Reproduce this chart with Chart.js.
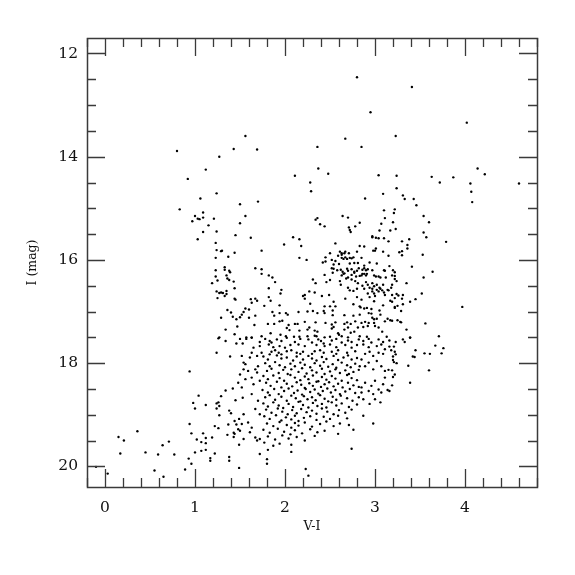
<!DOCTYPE html>
<html>
<head>
<meta charset="utf-8">
<script src="https://cdn.jsdelivr.net/npm/chart.js@4/dist/chart.umd.min.js"></script>
<style>
html,body{margin:0;padding:0;background:#fff;}
#wrap{width:575px;height:575px;}
</style>
</head>
<body>
<div id="wrap"><canvas id="c" width="575" height="575"></canvas></div>
<script>
// Axis ticks
const xMajorTicks = [0, 1, 2, 3, 4];
const yMajorTicks = [12, 14, 16, 18, 20];
const xMinorStep = 0.2;
const yMinorStep = 0.5;
const xRange = [-0.2, 4.8];
const yRange = [11.7, 20.4];

// Stars: [V-I, I]
const brightStars = [
[0.80,13.89],[1.43,13.85],[1.27,14.00],[1.12,14.25],[0.92,14.43],
[2.80,12.46],[2.95,13.14],[1.56,13.60],[1.69,13.86],[2.67,13.65],[2.36,13.81],[2.85,13.81],[2.37,14.23],[2.48,14.33],[2.11,14.37],[2.28,14.50],[3.04,14.36],
[3.41,12.65],[4.02,13.34],[3.23,13.60],[3.24,14.37],[3.63,14.39],[3.72,14.50],[3.87,14.40],[4.14,14.23],[4.22,14.34],[4.06,14.52],[4.60,14.52],[3.24,14.61],[4.07,14.68],[4.08,14.88]
];

const blueBranch = [
[1.24,14.71],[1.06,14.81],[0.83,15.02],[1.09,15.08],[1.00,15.15],[1.03,15.20],[1.05,15.21],[1.09,15.18],[0.97,15.25],[1.21,15.20],
[1.15,15.33],[1.09,15.46],[1.24,15.45],[1.03,15.60],[1.45,15.52],[1.23,15.67],[1.24,15.81],[1.29,15.83],[1.30,15.82],[1.44,15.86],
[1.23,15.96],[1.37,15.94],[1.33,16.14],[1.33,16.19],[1.23,16.20],[1.38,16.21],[1.39,16.24],[1.35,16.30],[1.23,16.32],[1.36,16.36],
[1.25,16.40],[1.38,16.39],[1.43,16.42],[1.19,16.45],[1.44,16.55],[1.24,16.61],[1.27,16.64],[1.29,16.63],[1.31,16.64],[1.35,16.60],
[1.35,16.66],[1.25,16.74],[1.33,16.70],[1.44,16.75],[1.45,16.77],[1.36,16.97],[1.40,17.02],[1.29,17.12],[1.42,17.10],[1.46,17.15],
[1.34,17.35],[1.27,17.50],[1.44,17.44],
[1.26,17.52],[1.34,17.57],[1.24,17.80],[1.39,17.87],[0.94,18.16],[1.42,18.49],[1.34,18.53],[1.45,18.72],[1.29,18.64],[1.04,18.63],
[0.98,18.77],[1.00,18.88],[1.12,18.81],[1.24,18.78],[1.26,18.76],[1.27,18.83],[1.24,18.88],[1.38,18.92],[1.40,18.97],[1.27,19.01],
[0.94,19.18],[1.37,19.19],[1.44,19.12],[1.46,19.19],[1.22,19.22],[1.26,19.26],[0.36,19.32],[0.15,19.43],[0.21,19.50],[0.64,19.59],
[0.71,19.52],[0.96,19.36],[1.09,19.36],[1.02,19.48],[1.07,19.53],[1.12,19.45],[1.12,19.55],[1.19,19.44],[1.36,19.39],[1.43,19.35],
[1.44,19.37],[1.43,19.43],[1.00,19.73],[1.07,19.70],[1.12,19.68],[1.22,19.75],[1.17,19.84],[1.17,19.89],[1.38,19.82],[1.38,19.89],
[0.93,19.85],[0.96,19.95],[0.17,19.75],[0.45,19.73],[0.59,19.77],[0.77,19.77],[-0.10,20.01],[0.03,20.14],[0.55,20.08],[0.65,20.20],[0.89,20.06]
];

const redBranch = [
[3.31,14.75],[3.33,14.82],[3.43,14.82],[3.46,14.94],[3.22,15.02],[3.21,15.09],[3.54,15.15],[3.60,15.27],[3.20,15.27],[3.17,15.43],
[3.23,15.40],[3.54,15.47],[3.57,15.56],[3.79,15.65],[3.15,15.64],[3.30,15.64],[3.38,15.60],[3.36,15.71],[3.36,15.78],[3.30,15.83],
[3.27,15.85],[3.30,15.91],[3.15,15.92],[3.53,15.90],[3.16,16.12],[3.41,16.13],[3.20,16.20],[3.22,16.24],[3.64,16.23],[3.19,16.30],
[3.22,16.31],[3.54,16.34],[3.22,16.37],[3.24,16.41],[3.35,16.45],[3.19,16.48],[3.18,16.54],[3.14,16.58],[3.15,16.59],[3.52,16.65],
[3.19,16.68],[3.24,16.66],[3.26,16.69],[3.31,16.68],[3.22,16.74],[3.30,16.75],[3.45,16.76],[3.39,16.81],[3.17,16.79],[3.19,16.81],
[3.31,16.86],[3.25,16.89],[3.22,16.91],[3.22,16.93],[3.97,16.91],[3.29,16.99],[3.14,17.14],[3.17,17.17],[3.19,17.18],[3.25,17.17],
[3.28,17.20],[3.29,17.21],[3.56,17.23],[3.35,17.35],[3.13,17.49],[3.39,17.50],[3.71,17.48],
[3.16,17.56],[3.23,17.59],[3.31,17.54],[3.33,17.59],[3.39,17.51],[3.16,17.68],[3.21,17.68],[3.18,17.75],[3.22,17.78],[3.23,17.83],
[3.20,17.87],[3.20,17.94],[3.21,17.98],[3.24,18.00],[3.45,17.75],[3.42,17.87],[3.44,17.88],[3.55,17.81],[3.61,17.82],[3.67,17.66],
[3.76,17.71],[3.74,17.81],[3.37,18.05],[3.60,18.14],[3.15,18.13],[3.19,18.14],[3.22,18.22],[3.20,18.27],[3.39,18.38],[3.19,18.43],
[3.14,18.52],[3.16,18.54]
];

const midField = [
[2.29,14.67],[3.09,14.72],[1.50,14.92],[1.70,14.87],[2.89,14.81],[1.56,15.15],[1.50,15.29],[2.64,15.15],[2.70,15.18],[2.36,15.19],
[2.34,15.22],[2.39,15.31],[2.44,15.35],[2.78,15.35],[2.83,15.28],[2.71,15.37],[2.72,15.42],[2.73,15.46],[3.10,15.04],[3.11,15.19],
[3.07,15.30],[3.05,15.43],[1.62,15.57],[2.09,15.56],[2.16,15.60],[1.99,15.70],[2.18,15.73],[2.97,15.54],[2.97,15.56],[3.01,15.57],
[3.04,15.58],[3.10,15.58],[2.56,15.68],[1.74,15.82],[2.16,15.96],[2.24,16.00],[2.83,15.73],[2.88,15.74],[2.50,15.87],[2.61,15.84],
[2.63,15.87],[2.67,15.84],[2.59,15.92],[2.63,15.90],[2.66,15.87],[2.71,15.87],[2.80,15.84],[2.98,15.82],[3.00,15.82],[3.01,15.78],
[3.09,15.84],[2.45,15.95],[2.42,16.05],[2.45,16.03],[2.52,16.00],[2.56,16.02],[2.63,15.96],[2.65,15.98],[2.67,15.95],[2.69,15.98],
[2.72,15.96],[2.74,15.97],[2.76,15.95],[2.85,15.96],[2.54,16.09],[2.60,16.08],[2.72,16.07],[2.77,16.06],[2.81,16.06],[2.88,16.11],
[2.94,16.05],[3.02,16.07],[1.67,16.16],[1.74,16.18],[1.74,16.27],[2.52,16.16],[2.54,16.17],[2.58,16.20],[2.62,16.19],[2.64,16.23],
[2.66,16.26],[2.69,16.17],[2.70,16.21],[2.74,16.18],[2.77,16.23],[2.80,16.21],[2.82,16.16],[2.86,16.19],[2.88,16.16],[2.90,16.20],
[2.92,16.18],[2.97,16.20],[3.10,16.20],[3.11,16.21],[2.44,16.29],[2.53,16.25],[2.63,16.30],[2.65,16.27],[2.74,16.29],[2.77,16.25],
[2.79,16.32],[2.83,16.31],[2.85,16.30],[2.86,16.27],[2.88,16.27],[2.90,16.30],[2.91,16.27],[2.99,16.30],[3.01,16.32],[3.04,16.32],
[3.06,16.34],[3.12,16.34],[1.82,16.30],[1.86,16.34],[1.89,16.43],[2.31,16.38],[2.34,16.45],[2.46,16.43],[2.50,16.39],[2.61,16.41],
[2.62,16.48],[2.68,16.36],[2.70,16.34],[2.74,16.38],[2.78,16.41],[2.81,16.45],[2.86,16.50],[2.90,16.43],[2.92,16.48],[2.97,16.45],
[2.99,16.51],[3.02,16.48],[3.05,16.54],[3.09,16.48],[1.82,16.55],[1.96,16.58],[1.95,16.65],[2.27,16.61],[2.33,16.63],[2.70,16.54],
[2.72,16.59],[2.76,16.60],[2.80,16.56],[2.88,16.56],[2.94,16.54],[2.97,16.56],[2.97,16.61],[2.99,16.65],[3.02,16.58],[3.04,16.61],
[3.06,16.56],[3.08,16.59],[3.10,16.63],[3.11,16.68],[3.00,16.70],[2.92,16.65],[1.82,16.72],[1.84,16.79],[2.20,16.70],[2.22,16.68],
[2.22,16.75],[2.41,16.70],[2.49,16.68],[2.54,16.81],[2.67,16.75],[2.80,16.72],[2.85,16.77],[2.94,16.72],[2.99,16.80],[1.62,16.76],
[1.67,16.75],[1.69,16.79],[1.63,16.83],[1.56,16.94],[1.60,16.96],[1.54,17.01],[1.52,17.06],[1.50,17.11],[1.77,16.89],[1.94,16.88],
[2.28,16.85],[2.31,16.99],[2.44,16.90],[2.43,16.99],[2.50,16.90],[2.56,16.90],[2.76,16.86],[2.83,16.90],[2.84,16.92],[2.88,16.94],
[2.91,16.93],[2.96,16.95],[3.05,16.98],[3.09,16.88],[1.86,17.01],[1.88,17.08],[1.94,17.03],[2.01,17.03],[2.03,17.06],[2.15,17.01],
[2.25,17.00],[2.36,17.03],[2.53,16.98],[2.44,17.03],[2.53,17.07],[2.66,17.07],[2.76,17.08],[2.83,17.06],[2.93,17.03],[2.96,17.04],
[3.06,17.06],[2.97,17.12],[2.99,17.15],[3.02,17.14],[1.60,17.12],[1.67,17.08],[1.81,17.24],[1.88,17.24],[1.94,17.19],[1.97,17.18],
[2.04,17.26],[2.11,17.24],[2.14,17.24],[2.22,17.20],[2.34,17.21],[2.45,17.22],[2.52,17.25],[2.56,17.21],[2.66,17.24],[2.69,17.21],
[2.73,17.24],[2.78,17.19],[2.85,17.22],[2.89,17.20],[2.93,17.22],[2.99,17.22],[3.11,17.19],[1.47,17.29],[1.66,17.26],[2.02,17.32],
[2.05,17.36],[2.16,17.37],[2.25,17.35],[2.27,17.31],[2.33,17.37],[2.36,17.39],[2.52,17.33],[2.54,17.30],[2.59,17.42],[2.60,17.45],
[2.66,17.35],[2.70,17.31],[2.73,17.41],[2.77,17.39],[2.81,17.31],[2.87,17.30],[2.92,17.28],[3.00,17.28],[3.04,17.31],[3.08,17.39],
[1.84,17.42],[1.95,17.45],[2.01,17.48],[2.10,17.49],[2.16,17.49],[2.33,17.47],[2.35,17.48],[2.44,17.50],[2.50,17.49],[2.63,17.48],
[2.70,17.50],[2.83,17.48],[2.91,17.49],[1.57,17.50],[1.63,17.50],[1.74,17.48],[2.25,17.48]
];

const faintClump = [
[1.50,17.53],[1.57,17.53],[1.63,17.51],[1.72,17.59],[1.78,17.53],[1.83,17.57],[1.85,17.60],[1.91,17.54],[1.96,17.57],[2.02,17.51],
[2.11,17.59],[2.17,17.53],[2.26,17.54],[2.30,17.60],[2.37,17.54],[2.40,17.57],[2.43,17.62],[2.52,17.56],[2.57,17.53],[2.63,17.60],
[2.70,17.56],[2.74,17.59],[2.82,17.54],[2.87,17.57],[2.93,17.53],[2.96,17.60],[3.04,17.54],[3.09,17.59],[1.46,17.62],[1.53,17.62],
[1.65,17.70],[1.72,17.67],[1.82,17.64],[1.87,17.69],[1.94,17.67],[2.00,17.70],[2.06,17.65],[2.15,17.64],[2.22,17.67],[2.35,17.65],
[2.44,17.67],[2.50,17.64],[2.57,17.69],[2.67,17.65],[2.74,17.70],[2.80,17.65],[2.87,17.64],[2.93,17.69],[3.02,17.67],[3.07,17.64],
[3.11,17.73],
[1.54,17.99],[1.56,18.02],[1.61,17.89],[1.69,17.86],[1.74,17.80],[1.83,17.83],[1.85,17.78],[1.89,17.75],[1.93,17.80],[1.96,17.83],
[2.02,17.77],[2.07,17.75],[2.13,17.80],[2.17,17.82],[2.20,17.78],[2.30,17.82],[2.33,17.77],[2.39,17.75],[2.43,17.80],[2.52,17.78],
[2.57,17.82],[2.59,17.75],[2.69,17.80],[2.78,17.77],[2.89,17.82],[2.94,17.78],[2.98,17.86],[3.04,17.80],[3.09,17.82],[1.52,17.86],
[1.63,17.80],
[1.50,18.22],[1.54,18.12],[1.59,18.15],[1.67,18.12],[1.63,18.28],[1.70,18.06],[1.69,18.18],[2.85,17.93],[2.89,18.06],[2.93,17.99],
[2.98,18.12],[3.02,17.96],[3.07,18.06],[3.11,18.15],
[1.48,18.38],[1.52,18.47],[1.56,18.31],[1.65,18.41],[1.72,18.34],[2.85,18.47],[2.89,18.38],[2.93,18.54],[2.96,18.44],[3.00,18.34],
[3.04,18.51],[3.09,18.41],[3.11,18.28],[2.85,18.57],[2.98,18.60],[3.07,18.57],
[1.53,18.67],[1.63,18.60],[1.70,18.73],[1.67,18.89],[2.87,18.70],[2.94,18.79],[3.00,18.70],[3.06,18.76],
[1.49,19.08],[1.52,19.18],[1.59,19.15],[1.63,19.25],[1.72,18.99],[1.54,18.99],[2.87,19.02],[2.98,19.17],
[1.48,19.28],[1.50,19.31],[1.61,19.34],[1.67,19.44],[1.69,19.50],[1.72,19.47],[1.54,19.47],[1.49,19.58],[1.72,19.76],[1.80,19.86],
[1.80,19.95],[1.49,20.03],[2.23,20.05],[2.26,20.18]
];

const denseCore = [
[1.76,17.87],[1.81,17.93],[1.91,17.85],[1.96,17.91],[2.02,17.89],[2.09,17.95],[2.13,17.87],[2.20,17.93],[2.26,17.86],[2.30,17.91],
[2.35,17.95],[2.41,17.88],[2.46,17.92],[2.54,17.86],[2.59,17.94],[2.65,17.89],[2.70,17.85],[2.74,17.93],[2.80,17.90],
[1.78,18.00],[1.83,18.06],[1.89,17.98],[1.94,18.04],[2.00,18.08],[2.06,18.01],[2.11,18.06],[2.17,17.99],[2.22,18.03],[2.28,18.08],
[2.33,18.00],[2.39,18.05],[2.43,17.98],[2.48,18.07],[2.53,18.02],[2.57,18.09],[2.63,17.99],[2.69,18.04],[2.73,18.08],[2.78,18.01],[2.83,18.06],
[1.80,18.15],[1.85,18.11],[1.93,18.19],[1.98,18.13],[2.03,18.21],[2.07,18.12],[2.15,18.17],[2.19,18.10],[2.24,18.20],[2.30,18.14],
[2.35,18.18],[2.41,18.11],[2.44,18.21],[2.50,18.16],[2.56,18.12],[2.61,18.19],[2.67,18.14],[2.71,18.21],[2.76,18.17],[2.82,18.13],
[1.76,18.25],[1.81,18.31],[1.87,18.24],[1.94,18.29],[1.99,18.34],[2.06,18.23],[2.11,18.28],[2.17,18.33],[2.22,18.26],[2.26,18.31],
[2.31,18.24],[2.37,18.35],[2.41,18.27],[2.46,18.32],[2.52,18.25],[2.56,18.30],[2.63,18.34],[2.69,18.23],[2.74,18.29],[2.80,18.33],
[1.79,18.38],[1.84,18.44],[1.91,18.36],[1.96,18.47],[2.02,18.40],[2.08,18.45],[2.13,18.37],[2.18,18.42],[2.22,18.48],[2.27,18.39],
[2.31,18.44],[2.35,18.36],[2.40,18.46],[2.44,18.41],[2.49,18.37],[2.54,18.45],[2.59,18.40],[2.64,18.47],[2.70,18.38],[2.76,18.43],[2.82,18.46],
[1.75,18.52],[1.81,18.57],[1.88,18.50],[1.93,18.60],[1.99,18.54],[2.04,18.49],[2.10,18.58],[2.14,18.53],[2.19,18.61],[2.23,18.50],
[2.28,18.56],[2.33,18.51],[2.37,18.59],[2.42,18.54],[2.47,18.49],[2.51,18.57],[2.56,18.52],[2.61,18.60],[2.67,18.55],[2.72,18.50],[2.78,18.58],
[1.78,18.66],[1.83,18.62],[1.89,18.71],[1.96,18.65],[2.02,18.73],[2.07,18.63],[2.12,18.68],[2.17,18.74],[2.21,18.64],[2.25,18.70],
[2.30,18.66],[2.34,18.72],[2.39,18.62],[2.44,18.69],[2.48,18.74],[2.53,18.65],[2.57,18.71],[2.62,18.63],[2.69,18.68],[2.75,18.73],[2.82,18.66],
[1.76,18.78],[1.81,18.84],[1.87,18.76],[1.93,18.82],[1.98,18.87],[2.04,18.79],[2.09,18.85],[2.15,18.75],[2.20,18.81],[2.26,18.86],
[2.31,18.77],[2.36,18.83],[2.41,18.79],[2.46,18.86],[2.52,18.76],[2.57,18.82],[2.63,18.78],[2.71,18.85],[2.80,18.80],
[1.79,18.90],[1.85,18.96],[1.92,18.88],[1.97,18.94],[2.03,18.99],[2.08,18.91],[2.13,18.97],[2.18,18.89],[2.24,18.95],[2.30,18.92],
[2.35,18.98],[2.41,18.88],[2.47,18.94],[2.54,18.99],[2.60,18.91],[2.67,18.96],[2.74,18.90],
[1.77,19.03],[1.83,19.08],[1.90,19.01],[1.96,19.11],[2.01,19.05],[2.07,19.09],[2.11,19.02],[2.15,19.12],[2.21,19.06],[2.28,19.03],
[2.35,19.10],[2.43,19.04],[2.50,19.08],[2.59,19.02],[2.69,19.07],
[1.80,19.17],[1.87,19.22],[1.94,19.14],[2.02,19.20],[2.07,19.25],[2.11,19.16],[2.15,19.21],[2.22,19.15],[2.30,19.23],[2.39,19.18],
[2.46,19.13],[2.54,19.22],[2.61,19.17],[2.71,19.20],
[1.76,19.29],[1.83,19.35],[1.92,19.27],[1.99,19.33],[2.06,19.38],[2.11,19.30],[2.19,19.36],[2.28,19.28],[2.36,19.34],[2.44,19.31],
[2.59,19.37],[2.76,19.29],
[1.81,19.42],[1.89,19.48],[1.97,19.40],[2.04,19.46],[2.13,19.43],[2.22,19.50],[2.33,19.41],
[1.77,19.54],[1.87,19.60],[1.94,19.56],[2.07,19.58],[1.81,19.68],[2.07,19.72],[2.74,19.66]
];

const allStars = [].concat(brightStars, blueBranch, redBranch, midField, faintClump, denseCore)
  .map(p => ({x: p[0], y: p[1]}));

const SERIF = '"DejaVu Serif", "Liberation Serif", serif';
const INK = '#3a3a3a';

const frameTicks = {
  id: 'frameTicks',
  afterDraw(chart) {
    const {ctx, chartArea: a, scales: {x, y}} = chart;
    ctx.save();
    ctx.strokeStyle = INK;
    ctx.lineWidth = 1.3;
    const majorLen = 18, minorLen = 9;
    const eps = 1e-6;
    for (let v = xRange[0]; v <= xRange[1] + eps; v += xMinorStep) {
      const vv = Math.round(v * 10) / 10;
      const px = Math.round(x.getPixelForValue(vv)) + 0.5;
      const len = xMajorTicks.includes(vv) ? majorLen : minorLen;
      ctx.beginPath();
      ctx.moveTo(px, a.bottom); ctx.lineTo(px, a.bottom - len);
      ctx.moveTo(px, a.top); ctx.lineTo(px, a.top + len);
      ctx.stroke();
    }
    for (let v = 12; v <= 20 + eps; v += yMinorStep) {
      const py = Math.round(y.getPixelForValue(v)) + 0.5;
      const len = yMajorTicks.includes(v) ? majorLen : minorLen;
      ctx.beginPath();
      ctx.moveTo(a.left, py); ctx.lineTo(a.left + len, py);
      ctx.moveTo(a.right, py); ctx.lineTo(a.right - len, py);
      ctx.stroke();
    }
    ctx.lineWidth = 1.5;
    ctx.strokeRect(Math.round(a.left) + 0.5, Math.round(a.top) + 0.5,
                   Math.round(a.right - a.left), Math.round(a.bottom - a.top));
    ctx.restore();
  }
};

new Chart(document.getElementById('c'), {
  type: 'scatter',
  data: {
    datasets: [{
      data: allStars,
      pointRadius: 1.2,
      pointHoverRadius: 1.2,
      pointBorderWidth: 0,
      backgroundColor: '#000',
      borderColor: '#000'
    }]
  },
  options: {
    responsive: false,
    animation: false,
    events: [],
    layout: { padding: { left: 0, top: 38, right: 38, bottom: 0 } },
    plugins: { legend: { display: false }, tooltip: { enabled: false } },
    scales: {
      x: {
        type: 'linear',
        min: xRange[0], max: xRange[1],
        afterBuildTicks: s => { s.ticks = xMajorTicks.map(v => ({value: v})); },
        afterFit: s => { s.height = 88; },
        grid: { display: false, drawTicks: false },
        border: { display: false },
        ticks: { color: '#111', padding: 12, font: { family: SERIF, size: 15.5 } },
        title: { display: true, text: 'V-I', color: '#111', font: { family: SERIF, size: 12.5 }, padding: { top: 0, bottom: 41 } }
      },
      y: {
        type: 'linear',
        reverse: true,
        min: yRange[0], max: yRange[1],
        afterBuildTicks: s => { s.ticks = yMajorTicks.map(v => ({value: v})); },
        afterFit: s => { s.width = 87; },
        grid: { display: false, drawTicks: false },
        border: { display: false },
        ticks: { color: '#111', padding: 9, font: { family: SERIF, size: 15.5 } },
        title: { display: true, text: 'I (mag)', color: '#111', font: { family: SERIF, size: 12.5 }, padding: { top: 25, bottom: 0 } }
      }
    }
  },
  plugins: [frameTicks]
});
</script>
</body>
</html>
